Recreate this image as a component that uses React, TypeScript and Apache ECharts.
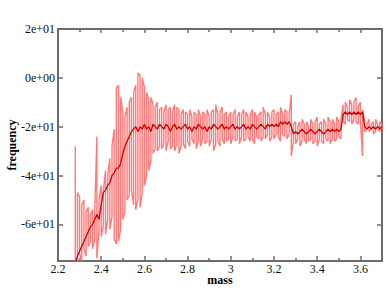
import React, { useEffect, useRef } from "react";
import * as echarts from "echarts";

const mass = [
  2.28, 2.29, 2.30, 2.31, 2.32, 2.33, 2.34, 2.35, 2.36, 2.37,
  2.38, 2.39, 2.40, 2.41, 2.42, 2.43, 2.44, 2.45, 2.46, 2.47,
  2.48, 2.49, 2.50, 2.51, 2.52, 2.53, 2.54, 2.55, 2.56, 2.57,
  2.58, 2.59, 2.60, 2.61, 2.62, 2.63, 2.64, 2.65, 2.66, 2.67,
  2.68, 2.69, 2.70, 2.71, 2.72, 2.73, 2.74, 2.75, 2.76, 2.77,
  2.78, 2.79, 2.80, 2.81, 2.82, 2.83, 2.84, 2.85, 2.86, 2.87,
  2.88, 2.89, 2.90, 2.91, 2.92, 2.93, 2.94, 2.95, 2.96, 2.97,
  2.98, 2.99, 3.00, 3.01, 3.02, 3.03, 3.04, 3.05, 3.06, 3.07,
  3.08, 3.09, 3.10, 3.11, 3.12, 3.13, 3.14, 3.15, 3.16, 3.17,
  3.18, 3.19, 3.20, 3.21, 3.22, 3.23, 3.24, 3.25, 3.26, 3.27,
  3.28, 3.29, 3.30, 3.31, 3.32, 3.33, 3.34, 3.35, 3.36, 3.37,
  3.38, 3.39, 3.40, 3.41, 3.42, 3.43, 3.44, 3.45, 3.46, 3.47,
  3.48, 3.49, 3.50, 3.51, 3.52, 3.53, 3.54, 3.55, 3.56, 3.57,
  3.58, 3.59, 3.60, 3.61, 3.62, 3.63, 3.64, 3.65, 3.66, 3.67,
  3.68, 3.69, 3.70,
];

const noisyHigh = [
  -28, -47, -49, -52, -50, -55, -53, -56, -54, -55,
  -24, -50, -44, -46, -38, -40, -33, -28, -21, -4,
  -3, -8, -14, -16, -12, -10, -8, -6, -3, 2,
  1, 0, -4, -6, -9, -8, -11, -12, -10, -13,
  -12, -14, -11, -13, -12, -14, -11, -12, -13, -15,
  -13, -14, -15, -13, -16, -14, -15, -13, -16, -14,
  -15, -13, -16, -14, -13, -11, -15, -14, -12, -15,
  -14, -16, -14, -15, -13, -16, -14, -15, -13, -14,
  -16, -15, -13, -14, -16, -15, -14, -12, -15, -14,
  -16, -14, -13, -15, -14, -12, -15, -13, -14, -15,
  -7, -19, -18, -20, -18, -17, -19, -18, -20, -17,
  -19, -18, -16, -19, -18, -17, -19, -16, -18, -17,
  -19, -16, -18, -17, -11, -10, -12, -9, -11, -10,
  -8, -12, -10, -13, -18, -19, -17, -19, -18, -17,
  -19, -18, -19,
];

const noisyLow = [
  -80, -76, -72, -75, -70, -73, -69, -67, -70, -66,
  -74, -62, -65, -60, -64, -58, -62, -57, -66, -68,
  -67, -62, -58, -55, -50, -48, -46, -52, -54, -50,
  -53, -47, -44, -40, -38, -34, -31, -29, -30, -28,
  -29, -27, -30, -26, -29, -28, -30, -27, -31, -28,
  -27, -29, -26, -28, -25, -27, -29, -26, -28, -25,
  -27, -26, -28, -25, -30, -27, -26, -28, -25, -27,
  -26, -25, -27, -24, -26, -25, -27, -24, -26, -25,
  -24, -26, -25, -27, -24, -25, -26, -24, -25, -23,
  -26, -24, -25, -23, -24, -26, -23, -24, -25, -23,
  -32, -26, -27, -25, -28, -26, -25, -27, -26, -25,
  -27, -26, -28, -25, -26, -27, -25, -26, -27, -25,
  -26, -25, -24, -25, -18, -19, -17, -18, -19, -17,
  -18, -19, -18, -32, -22, -21, -22, -21, -23, -22,
  -21, -22, -21,
];

const smoothed = [
  -76, -73, -71, -69, -67, -65, -63, -61, -60, -58,
  -56, -58, -52, -47, -46, -44, -43, -40, -39, -37,
  -37, -35, -31, -28, -26, -24, -22, -21, -20, -22,
  -20, -21, -19, -21, -20, -22, -19, -20, -21, -19,
  -20, -21, -19, -20, -22, -20, -19, -21, -20, -21,
  -20, -19, -21, -20, -22, -20, -21, -19, -20, -21,
  -20, -22, -20, -21, -19, -20, -21, -20, -19, -21,
  -20, -21, -20, -19, -21, -20, -21, -20, -19, -21,
  -20, -21, -19, -20, -21, -20, -19, -20, -21, -19,
  -20, -19, -20, -19, -20, -18, -19, -18, -19, -18,
  -20, -23, -22, -23, -22, -21, -22, -23, -22, -21,
  -22, -23, -22, -21, -22, -23, -22, -21, -22, -21,
  -22, -21, -22, -21, -15, -14, -15, -14, -15, -14,
  -15, -14, -15, -14, -20, -21, -20, -21, -20, -21,
  -20, -21, -20,
];

const xTickLabels = [2.2, 2.4, 2.6, 2.8, 3.0, 3.2, 3.4, 3.6];
const yTickValues = [-60, -40, -20, 0, 20];

const SERIF = "Liberation Serif";
const AXIS_COLOR = "#6b6b6b";

function expLabel(v: number): string {
  const s = v.toExponential(0);
  return s.replace(/e([+-])(\d)$/, "e$10$2");
}

export default function App() {
  const ref = useRef<HTMLDivElement>(null);

  useEffect(() => {
    if (!ref.current) return;
    const chart = echarts.init(ref.current, undefined, { renderer: "svg" });

    const noisyData: number[][] = [];
    for (let i = 0; i < mass.length; i++) {
      if (i % 2 === 0) {
        noisyData.push([mass[i], noisyHigh[i]]);
        noisyData.push([mass[i], noisyLow[i]]);
      } else {
        noisyData.push([mass[i], noisyLow[i]]);
        noisyData.push([mass[i], noisyHigh[i]]);
      }
    }
    const smoothData = mass.map((m, i) => [m, smoothed[i]]);

    const lineStyle = { color: AXIS_COLOR, width: 2 };
    const tickStyle = { color: AXIS_COLOR, width: 1.5 };
    const labelStyle = { fontFamily: SERIF, fontSize: 12, color: "#111" };

    chart.setOption({
      animation: false,
      backgroundColor: "#ffffff",
      textStyle: { fontFamily: SERIF },
      grid: {
        left: 58,
        right: 5,
        top: 29,
        bottom: 38,
        containLabel: false,
        outerBoundsMode: "none",
      },
      xAxis: [
        {
          type: "value",
          position: "bottom",
          min: 2.2,
          max: 3.7,
          interval: 0.2,
          axisLine: { show: true, onZero: false, lineStyle },
          axisTick: { show: true, inside: true, length: 5, lineStyle: tickStyle },
          minorTick: { show: true, splitNumber: 2, length: 3, lineStyle: tickStyle },
          splitLine: { show: false },
          axisLabel: {
            customValues: xTickLabels,
            ...labelStyle,
            lineHeight: 11,
            margin: 2,
          },
          name: "mass",
          nameLocation: "middle",
          nameGap: 13,
          nameMoveOverlap: false,
          nameTextStyle: {
            fontFamily: SERIF,
            fontWeight: "bold",
            fontSize: 12,
            color: "#000",
            verticalAlign: "top",
            lineHeight: 12,
            padding: [0, 0, 0, 0],
          },
        },
        {
          type: "value",
          position: "top",
          min: 2.2,
          max: 3.7,
          interval: 0.2,
          axisLine: { show: true, onZero: false, lineStyle },
          axisTick: { show: true, inside: true, length: 4, lineStyle: tickStyle },
          minorTick: { show: true, splitNumber: 2, length: 3, lineStyle: tickStyle },
          splitLine: { show: false },
          axisLabel: { show: false },
        },
      ],
      yAxis: [
        {
          type: "value",
          position: "left",
          min: -75,
          max: 20,
          axisLine: { show: true, onZero: false, lineStyle },
          axisTick: {
            show: true,
            inside: true,
            length: 5,
            customValues: yTickValues,
            lineStyle: tickStyle,
          },
          splitLine: { show: false },
          axisLabel: {
            customValues: yTickValues,
            formatter: (v: number) => expLabel(v),
            ...labelStyle,
            margin: 3,
          },
          name: "frequency",
          nameLocation: "middle",
          nameGap: 40,
          nameRotate: 90,
          nameMoveOverlap: false,
          nameTextStyle: {
            fontFamily: SERIF,
            fontWeight: "bold",
            fontSize: 12,
            color: "#000",
          },
        },
        {
          type: "value",
          position: "right",
          min: -75,
          max: 20,
          axisLine: { show: true, onZero: false, lineStyle },
          axisTick: {
            show: true,
            inside: true,
            length: 5,
            customValues: yTickValues,
            lineStyle: tickStyle,
          },
          splitLine: { show: false },
          axisLabel: { show: false },
        },
      ],
      series: [
        {
          type: "line",
          data: noisyData,
          xAxisIndex: 0,
          yAxisIndex: 0,
          showSymbol: false,
          symbol: "none",
          clip: true,
          lineStyle: { color: "#ff7b7b", width: 1.4 },
          z: 2,
        },
        {
          type: "line",
          data: smoothData,
          xAxisIndex: 0,
          yAxisIndex: 0,
          showSymbol: false,
          symbol: "none",
          clip: true,
          lineStyle: { color: "#cc0000", width: 1.3 },
          z: 3,
        },
      ],
    });

    return () => chart.dispose();
  }, []);

  return (
    <div
      ref={ref}
      style={{ position: "fixed", left: 0, top: 0, width: 387, height: 299 }}
    />
  );
}
